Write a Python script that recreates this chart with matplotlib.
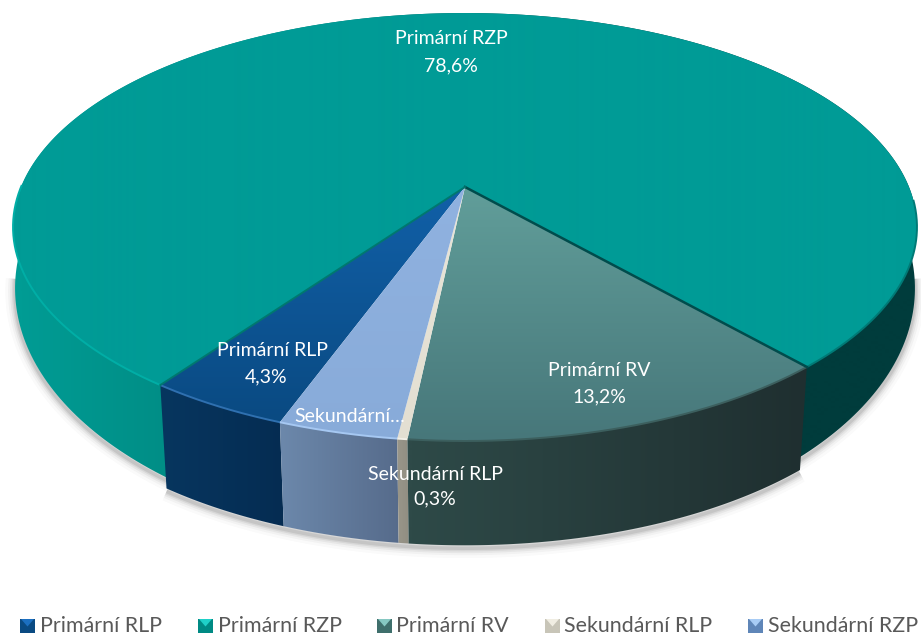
import numpy as np
import matplotlib
matplotlib.use("Agg")
import matplotlib.pyplot as plt
from matplotlib.colors import LinearSegmentedColormap
from matplotlib.patches import Polygon

categories = ["Primární RLP", "Primární RZP", "Primární RV", "Sekundární RLP", "Sekundární RZP"]
values = [4.3, 78.6, 13.2, 0.3, 3.6]
value_labels = ["4,3%", "78,6%", "13,2%", "0,3%", None]

plt.rcParams["font.family"] = ["Lato", "DejaVu Sans"]
fig = plt.figure(figsize=(9.21, 6.35), dpi=100)
ax = fig.add_axes([0, 0, 1, 1])
ax.set_xlim(0, 921)
ax.set_ylim(635, 0)
ax.axis("off")

START = 110.1
K = 0.187


def ring(t, cx, cy, rx, ry):
    t = np.radians(t)
    w = 1 - K * np.sin(t)
    return cx + rx * np.cos(t) / w, cy + ry * np.sin(t) / w


def top(t):
    return ring(t, 465, 187, 444, 206.5)


def bottom(t, back=False):
    if back:
        return ring(t, 465, 241, 442, 244)
    return ring(t, 465, 287, 435, 210)


def gradient(poly, stops, vertical=False, lo=0, hi=1, z=1):
    cmap = LinearSegmentedColormap.from_list("g", stops)
    n = 635 if vertical else 921
    g = np.clip((np.arange(n) + 0.5 - lo) / (hi - lo), 0, 1)
    arr = g[:, None] if vertical else g[None, :]
    im = ax.imshow(arr, cmap=cmap, vmin=0, vmax=1, aspect="auto", zorder=z,
                   extent=(0, 921, 635, 0), interpolation="bilinear")
    patch = Polygon(poly, closed=True, transform=ax.transData, fc="none", ec="none")
    ax.add_patch(patch)
    im.set_clip_path(patch)


def side_poly(a, b, back=False):
    t = np.linspace(a, b, 300)
    xt, yt = top(t)
    xb, yb = bottom(t[::-1], back)
    return np.column_stack([np.r_[xt, xb], np.r_[yt, yb]])


def top_poly(a, b):
    t = np.linspace(a, b, 300)
    x, y = top(t)
    return np.column_stack([np.r_[465, x], np.r_[187, y]])


edges = START + np.r_[0, np.cumsum(values)] * 3.6
spans = list(zip(edges[:-1], edges[1:]))

# soft shadow under the body
t_left = np.linspace(spans[1][0] - 2, 172, 200)
t_right = np.linspace(368, spans[1][1] + 2, 200)
t_front = np.linspace(spans[2][0], spans[0][1] + 360, 200)
for lw, a in [(14, 0.025), (10, 0.04), (7, 0.06), (4.5, 0.08), (2.5, 0.1)]:
    for xs, ys in (bottom(t_left, True), bottom(t_right, True), bottom(t_front)):
        ax.plot(xs, ys + 3, color="#303030", lw=lw, alpha=a, zorder=0.5, solid_capstyle="butt")

side_styles = [
    (["#07365f", "#052c52"], 160, 285),
    (["#009c94", "#007f78", "#003c3c", "#003c3c"], 18, 917),
    (["#2e4a48", "#1f2f30"], 410, 805),
    (["#989589", "#8f8c80"], 398, 412),
    (["#6c88ab", "#566b8b"], 280, 400),
]
top_styles = [
    (["#1160a8", "#0a4a82"], 187, 420),
    (["#009b96", "#009b96"], 10, 445),
    (["#619e9a", "#47777a"], 187, 440),
    (["#e8e4d8", "#e3dfd2"], 187, 440),
    (["#90b2e0", "#88abd9"], 187, 440),
]

# sides: back slice first (tucked slightly under its neighbours), front slices on top
for i in [1, 0, 4, 3, 2]:
    a, b = spans[i]
    stops, lo, hi = side_styles[i]
    if i == 1:
        a, b = a - 2, b + 2
    gradient(side_poly(a, b, back=(i == 1)), stops, lo=lo, hi=hi, z=2 + 0.01 * (i != 1))

# top faces
for i in [1, 0, 2, 3, 4]:
    a, b = spans[i]
    stops, lo, hi = top_styles[i]
    gradient(top_poly(a, b), stops, vertical=True, lo=lo, hi=hi, z=3)

# rim bevels
rims = [
    (spans[0][0], spans[0][1], "#2f70b0", 1.4),
    (spans[1][0], spans[1][0] + 55, "#00aea6", 1.4),
    (spans[1][1] - 45, spans[1][1], "#007a76", 1.4),
    (spans[2][0], spans[2][1], "#3c5f5e", 1.4),
    (spans[3][0], spans[3][1], "#f2efe6", 1.4),
    (spans[4][0], spans[4][1], "#a6c8f2", 1.4),
]
for a, b, c, lw in rims:
    x, y = top(np.linspace(a, b, 200))
    ax.plot(x, y, color=c, lw=lw, zorder=4, solid_capstyle="butt")

# dark and green slice separators
for t, c, lw in [(spans[2][0], "#004c4c", 1.8), (spans[1][0], "#00786f", 1.4)]:
    x, y = top(t)
    ax.plot([465, x], [187, y], color=c, lw=lw, zorder=4)

# data labels
label_font = dict(color="white", fontsize=14, ha="center", va="center", zorder=6)
ax.text(451, 39, categories[1], **label_font)
ax.text(451, 66, value_labels[1], **label_font)
ax.text(272, 350, categories[0], **label_font)
ax.text(266, 377, value_labels[0], **label_font)
ax.text(599, 370, categories[2], **label_font)
ax.text(599, 397, value_labels[2], **label_font)
ax.text(435, 474, categories[3], **label_font)
ax.text(435, 499, value_labels[3], **label_font)
ax.text(350, 416, "Sekundární…", **label_font)

# legend
marker_colors = [
    ("#0a4a82", "#1c6fc0"), ("#008a84", "#1fd0c8"), ("#3f6f6c", "#86c8c2"),
    ("#c8c5b8", "#f0ede2"), ("#5f86b8", "#a8ccf5"),
]
marker_x = [20, 198, 377, 545, 748]
text_x = [40, 218, 396, 564, 768]
for name, mx, tx, (dark, light) in zip(categories, marker_x, text_x, marker_colors):
    ax.add_patch(Polygon([(mx, 619), (mx + 15, 619), (mx + 15, 632.5), (mx, 632.5)], fc=dark, ec="none", zorder=6))
    ax.add_patch(Polygon([(mx + 1, 619), (mx + 14, 619), (mx + 7.5, 626.5)], fc=light, ec="none", zorder=7))
    ax.text(tx, 632, name, color="#595959", fontsize=15.4, ha="left", va="baseline", zorder=6)

ax.set_xlim(0, 921)
ax.set_ylim(635, 0)
fig.savefig("out.png", dpi=100)
